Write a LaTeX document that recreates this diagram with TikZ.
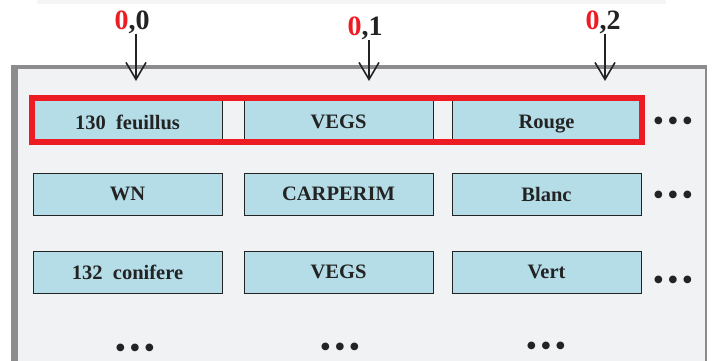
\documentclass[tikz,border=0pt]{standalone}
\usepackage{fontspec}
\setmainfont{Liberation Serif}
\usepackage{tikz}
\usetikzlibrary{arrows.meta,positioning,calc}
\usepackage{xcolor}
\definecolor{cellblue}{RGB}{180,221,232}
\definecolor{panelgray}{RGB}{241,242,244}
\definecolor{rimgray}{RGB}{140,140,143}
\definecolor{markred}{RGB}{237,28,36}
\definecolor{inkgray}{RGB}{35,35,35}
\tikzstyle{cell} = [rectangle, minimum width=189pt, minimum height=42pt, inner sep=0pt, text centered, draw=inkgray, line width=1pt, fill=cellblue, text=inkgray, font=\fontsize{20.5}{22}\selectfont\bfseries, text depth=-9pt]
\tikzstyle{index} = [inner sep=0pt, text=inkgray, font=\fontsize{28}{30}\selectfont\bfseries]
\tikzstyle{more} = [inner sep=0pt, text=inkgray, font=\fontsize{32}{32}\selectfont, text height=15pt, text depth=-7pt]
\tikzstyle{pointer} = [line width=1.6pt, draw=inkgray, -{Straight Barb[length=17pt,width=20pt]}]
\newcommand{\moredots}{\textbullet\hspace{3.3pt}\textbullet\hspace{3.3pt}\textbullet}

\begin{document}
\begin{tikzpicture}[x=1pt, y=-1pt]
    \useasboundingbox (0,0) rectangle (716,361);
    % Panel
    \fill[black!4] (37,0) rectangle (666,4);
    \fill[rimgray] (11,65) rectangle (707,361);
    \fill[panelgray] (18,69) rectangle (705,361);

    % Cells
    \node (c00) [cell] at (127.5,122) {130\ \ feuillus};
    \node (c01) [cell, right=21pt of c00] {VEGS};
    \node (c02) [cell, right=18pt of c01] {Rouge};
    \node (c10) [cell, below=29pt of c00] {WN};
    \node (c11) [cell, right=21pt of c10] {CARPERIM};
    \node (c12) [cell, right=18pt of c11] {Blanc};
    \node (c20) [cell, below=35pt of c10] {132\ \ conifere};
    \node (c21) [cell, right=21pt of c20] {VEGS};
    \node (c22) [cell, right=18pt of c21] {Vert};

    % Row 0 highlight
    \draw[markred, line width=5.5pt] ($(c00.north west)+(-0.5,-2.5)$) rectangle ($(c02.south east)+(0.5,-1.5)$);

    % Dots
    \node (r0) [more] at (673,124) {\moredots};
    \node (r1) [more] at (673,198) {\moredots};
    \node (r2) [more] at (673,283) {\moredots};
    \node (d0) [more] at (135,351) {\moredots};
    \node (d1) [more] at (340,350) {\moredots};
    \node (d2) [more] at (546,349) {\moredots};

    % Indices
    \node (i0) [index] at (132,22) {\textcolor{markred}{0},0};
    \node (i1) [index] at (365,28) {\textcolor{markred}{0},1};
    \node (i2) [index] at (603,22) {\textcolor{markred}{0},2};
    \coordinate (a0) at (136,81);
    \coordinate (a1) at (369,81);
    \coordinate (a2) at (605,81);
    \draw [pointer] (i0.south -| a0) -- (a0);
    \draw [pointer] (i1.south -| a1) -- (a1);
    \draw [pointer] (i2.south -| a2) -- (a2);

\end{tikzpicture}
\end{document}
